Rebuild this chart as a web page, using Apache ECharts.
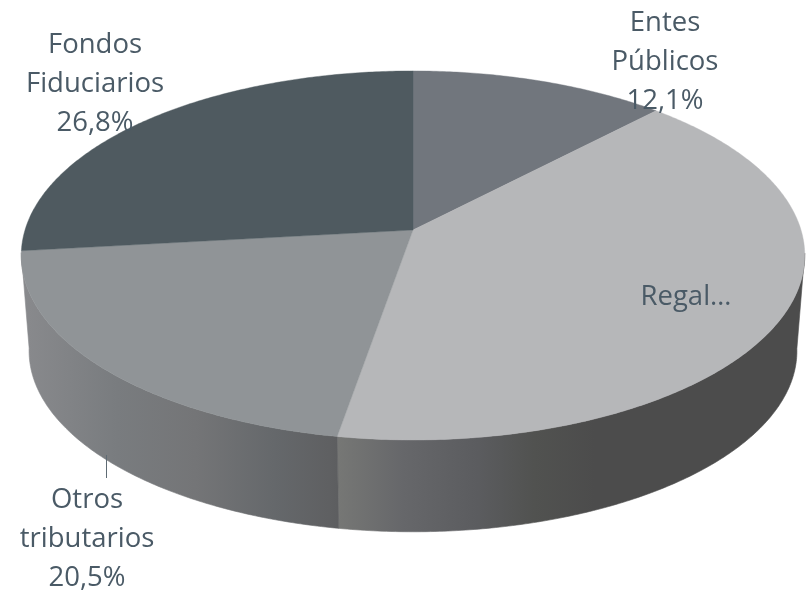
<!DOCTYPE html>
<html><head><meta charset="utf-8">
<style>html,body{margin:0;padding:0;background:#fff}#c{width:809px;height:593px}</style>
<script src="https://cdn.jsdelivr.net/npm/echarts@6/dist/echarts.min.js"></script>
</head><body><div id="c"></div>
<script>
const categories = ['Entes Públicos', 'Regalías', 'Otros tributarios', 'Fondos Fiduciarios'];
const values = [12.1, 40.6, 20.5, 26.8];
const labelTexts = ['Entes\nPúblicos\n12,1%', 'Regal…', 'Otros\ntributarios\n20,5%', 'Fondos\nFiduciarios\n26,8%'];

const topColors = ['#71767d', '#b6b7b9', '#909497', '#4f5a60'];
const labelAnchors = [[665, 62], [686, 297], [87, 539], [95, 84]];
const textColor = '#4a5a66';

// perspective disc projection
const CX = 413, CY = 230, RX = 388, RY = 181, K = -0.138, DEPTH_Y = 326, DEPTH_S = 0.98;
const total = values.reduce((a, b) => a + b, 0);
const project = (t, y0, s) => {
  const u = Math.sin(t), v = -Math.cos(t), d = 1 + K * v;
  return [CX + s * RX * u / d, y0 + s * RY * v / d];
};
const bounds = i => {
  const before = values.slice(0, i).reduce((a, b) => a + b, 0);
  return [before / total * 2 * Math.PI, (before + values[i]) / total * 2 * Math.PI];
};
const arc = (a, b) => {
  const n = Math.max(2, Math.ceil((b - a) / 0.01)), out = [];
  for (let j = 0; j <= n; j++) out.push(a + (b - a) * j / n);
  return out;
};
const grad = (x0, x1, stops) => ({
  type: 'linear', global: true, x: x0, y: 0, x2: x1, y2: 0,
  colorStops: stops.map(s => ({ offset: s[0], color: s[1] }))
});
const sideFills = [
  '#666',
  grad(338, 805, [[0, '#767775'], [0.14, '#66676a'], [0.3, '#5b5c5f'], [0.42, '#515250'], [0.55, '#4c4c4c'], [1, '#4c4c4c']]),
  grad(22, 338, [[0, '#898a8d'], [0.3, '#797c7f'], [0.55, '#747577'], [0.8, '#65686b'], [0.97, '#5f6062'], [1, '#5d5e60']]),
  '#555'
];

const chart = echarts.init(document.getElementById('c'), null, { renderer: 'canvas' });
chart.setOption({
  animation: false,
  backgroundColor: '#fff',
  series: [
    {
      type: 'custom', coordinateSystem: 'none', silent: true, z: 1,
      data: values.map(v => [v]),
      renderItem(p) {
        const [a, b] = bounds(p.dataIndex);
        const ts = arc(a, b).filter(t => -Math.cos(t) > 0.12);
        if (ts.length < 2) return { type: 'group', children: [] };
        const pts = ts.map(t => project(t, CY, 1)).concat(ts.slice().reverse().map(t => project(t, DEPTH_Y, DEPTH_S)));
        const f = sideFills[p.dataIndex];
        return { type: 'polygon', shape: { points: pts }, style: { fill: f, stroke: f, lineWidth: 0.6 } };
      }
    },
    {
      type: 'custom', coordinateSystem: 'none', silent: true, z: 2,
      data: values.map(v => [v]),
      renderItem(p) {
        const [a, b] = bounds(p.dataIndex);
        const pts = [[CX, CY]].concat(arc(a, b).map(t => project(t, CY, 1)));
        const c = topColors[p.dataIndex];
        return { type: 'polygon', shape: { points: pts }, style: { fill: c, stroke: c, lineWidth: 0.4 } };
      }
    },
    {
      type: 'custom', coordinateSystem: 'none', silent: true, z: 3,
      data: categories.map((c, i) => [i]),
      renderItem(p) {
        const [x, y] = labelAnchors[p.dataIndex];
        const kids = [{
          type: 'text',
          style: { x, y, text: labelTexts[p.dataIndex], fill: textColor, align: 'center', verticalAlign: 'middle',
            font: '27.5px "Open Sans"', lineHeight: 38.7 }
        }];
        if (p.dataIndex === 2) kids.push({
          type: 'line', shape: { x1: 106.5, y1: 455, x2: 106.5, y2: 478 }, style: { stroke: '#5f6b74', lineWidth: 1 }
        });
        return { type: 'group', children: kids };
      }
    }
  ]
});
</script></body></html>
